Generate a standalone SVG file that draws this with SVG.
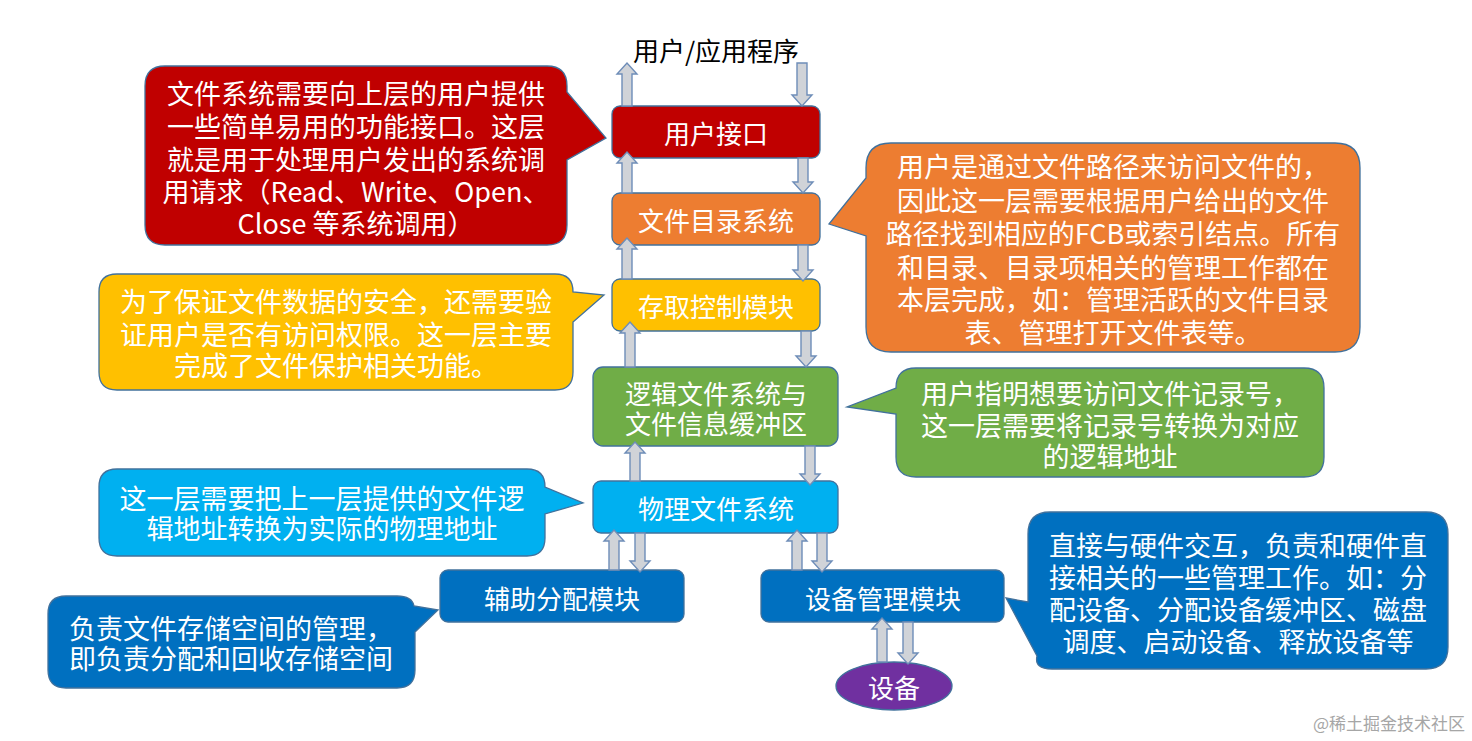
<svg xmlns="http://www.w3.org/2000/svg" width="1472" height="741" viewBox="0 0 1472 741">
<style>
  text { font-family: "Noto Sans CJK SC", "Noto Sans", sans-serif; dominant-baseline: central; text-anchor: middle; }
  .bt { fill: #FFFFFF; font-size: 26px; }
  .ct { fill: #FFFFFF; font-size: 27px; }
  .box { stroke: #41719C; stroke-width: 1.3; }
  .co { stroke: #41719C; stroke-width: 1.3; }
  .arr { fill: #D0D3D8; stroke: #6E8DB8; stroke-width: 1.4; stroke-linejoin: miter; }
</style>
<rect width="1472" height="741" fill="#FFFFFF"/>

<text id="title" x="716" y="49" style="font-size:26px;fill:#000">用户/应用程序</text>

<g id="callout-user-interface">
  <path class="co" fill="#C00000" d="M 165,66 H 547 Q 567,66 567,86 V 92 L 606,138 L 567,160 V 225 Q 567,245 547,245 H 165 Q 145,245 145,225 V 86 Q 145,66 165,66 Z"/>
  <text class="ct" x="356" y="92">文件系统需要向上层的用户提供</text>
  <text class="ct" x="356" y="125">一些简单易用的功能接口。这层</text>
  <text class="ct" x="356" y="158">就是用于处理用户发出的系统调</text>
  <text class="ct" x="356" y="190">用请求（Read、Write、Open、</text>
  <text class="ct" x="356" y="222">Close 等系统调用）</text>
</g>

<g id="callout-dir">
  <path class="co" fill="#ED7D31" d="M 891,143 H 1335 Q 1360,143 1360,168 V 327 Q 1360,352 1335,352 H 891 Q 866,352 866,327 V 236 L 829,224 L 866,178 V 168 Q 866,143 891,143 Z"/>
  <text class="ct" x="1113" y="165">用户是通过文件路径来访问文件的，</text>
  <text class="ct" x="1113" y="199">因此这一层需要根据用户给出的文件</text>
  <text class="ct" x="1113" y="232">路径找到相应的FCB或索引结点。所有</text>
  <text class="ct" x="1113" y="266">和目录、目录项相关的管理工作都在</text>
  <text class="ct" x="1113" y="298">本层完成，如：管理活跃的文件目录</text>
  <text class="ct" x="1113" y="331">表、管理打开文件表等。</text>
</g>

<g id="callout-access">
  <path class="co" fill="#FFC000" d="M 117,274 H 555 Q 573,274 573,292 L 604,295 L 573,322 V 372 Q 573,390 555,390 H 117 Q 99,390 99,372 V 292 Q 99,274 117,274 Z"/>
  <text class="ct" x="336" y="300">为了保证文件数据的安全，还需要验</text>
  <text class="ct" x="336" y="333">证用户是否有访问权限。这一层主要</text>
  <text class="ct" x="336" y="364">完成了文件保护相关功能。</text>
</g>

<g id="callout-physical">
  <path class="co" fill="#00B0F0" d="M 117,469 H 527 Q 545,469 545,487 L 583,503 L 545,514 V 538 Q 545,556 527,556 H 117 Q 99,556 99,538 V 487 Q 99,469 117,469 Z"/>
  <text class="ct" x="322" y="497">这一层需要把上一层提供的文件逻</text>
  <text class="ct" x="322" y="527">辑地址转换为实际的物理地址</text>
</g>

<g id="callout-logical">
  <path class="co" fill="#70AD47" d="M 916,368 H 1304 Q 1324,368 1324,388 V 457 Q 1324,477 1304,477 H 916 Q 896,477 896,457 V 414 L 847,407 L 896,388 Q 896,368 916,368 Z"/>
  <text class="ct" x="1110" y="392">用户指明想要访问文件记录号，</text>
  <text class="ct" x="1110" y="424">这一层需要将记录号转换为对应</text>
  <text class="ct" x="1110" y="455">的逻辑地址</text>
</g>

<g id="callout-device">
  <path class="co" fill="#0070C0" d="M 1050,512 H 1426 Q 1448,512 1448,534 V 647 Q 1448,669 1426,669 H 1052 Q 1034,669 1037,656 L 1006,598 L 1028,602 V 534 Q 1028,512 1050,512 Z"/>
  <text class="ct" x="1238" y="544">直接与硬件交互，负责和硬件直</text>
  <text class="ct" x="1238" y="576">接相关的一些管理工作。如：分</text>
  <text class="ct" x="1238" y="608">配设备、分配设备缓冲区、磁盘</text>
  <text class="ct" x="1238" y="640">调度、启动设备、释放设备等</text>
</g>

<g id="callout-alloc">
  <path class="co" fill="#0070C0" d="M 66,596 H 397 Q 412,596 414,606 L 438,610 L 415,632 V 670 Q 415,688 397,688 H 66 Q 48,688 48,670 V 614 Q 48,596 66,596 Z"/>
  <text class="ct" x="231" y="627">负责文件存储空间的管理，</text>
  <text class="ct" x="231" y="657">即负责分配和回收存储空间</text>
</g>

<g id="node-user-interface">
  <rect class="box" x="612" y="106" width="208" height="52" rx="8" fill="#C00000"/>
  <text class="bt" x="716" y="132">用户接口</text>
</g>
<g id="node-dir">
  <rect class="box" x="612" y="193" width="208" height="52" rx="8" fill="#ED7D31"/>
  <text class="bt" x="716" y="219">文件目录系统</text>
</g>
<g id="node-access">
  <rect class="box" x="612" y="279" width="208" height="52" rx="8" fill="#FFC000"/>
  <text class="bt" x="716" y="305">存取控制模块</text>
</g>
<g id="node-logical">
  <rect class="box" x="593" y="367" width="245" height="79" rx="10" fill="#70AD47"/>
  <text class="bt" x="716" y="392">逻辑文件系统与</text>
  <text class="bt" x="716" y="422">文件信息缓冲区</text>
</g>
<g id="node-physical">
  <rect class="box" x="593" y="481" width="245" height="52" rx="8" fill="#00B0F0"/>
  <text class="bt" x="716" y="507">物理文件系统</text>
</g>
<g id="node-alloc">
  <rect class="box" x="440" y="570" width="244" height="52" rx="8" fill="#0070C0"/>
  <text class="bt" x="562" y="597">辅助分配模块</text>
</g>
<g id="node-devmgr">
  <rect class="box" x="761" y="570" width="243" height="52" rx="8" fill="#0070C0"/>
  <text class="bt" x="883" y="597">设备管理模块</text>
</g>
<g id="node-device">
  <ellipse class="box" cx="894" cy="686" rx="58" ry="24" fill="#7030A0"/>
  <text class="bt" x="894" y="686">设备</text>
</g>

<g id="connectors">
  <path class="arr" d="M 622,106 V 74 H 617 L 627,63 L 637,74 H 632 V 106 Z"/>
  <path class="arr" d="M 797,63 V 95 H 792 L 802,106 L 812,95 H 807 V 63 Z"/>
  <path class="arr" d="M 622,193 V 163 H 617 L 627,152 L 637,163 H 632 V 193 Z"/>
  <path class="arr" d="M 798,158 V 182 H 793 L 803,193 L 813,182 H 808 V 158 Z"/>
  <path class="arr" d="M 622,279 V 249 H 617 L 627,238 L 637,249 H 632 V 279 Z"/>
  <path class="arr" d="M 798,245 V 270 H 793 L 803,281 L 813,270 H 808 V 245 Z"/>
  <path class="arr" d="M 625,367 V 333 H 620 L 630,322 L 640,333 H 635 V 367 Z"/>
  <path class="arr" d="M 801,331 V 356 H 796 L 806,367 L 816,356 H 811 V 331 Z"/>
  <path class="arr" d="M 630,481 V 453 H 625 L 635,442 L 645,453 H 640 V 481 Z"/>
  <path class="arr" d="M 805,446 V 474 H 800 L 810,485 L 820,474 H 815 V 446 Z"/>
  <path class="arr" d="M 609,570 V 541 H 604 L 614,530 L 624,541 H 619 V 570 Z"/>
  <path class="arr" d="M 635,533 V 561 H 630 L 640,572 L 650,561 H 645 V 533 Z"/>
  <path class="arr" d="M 792,570 V 541 H 787 L 797,530 L 807,541 H 802 V 570 Z"/>
  <path class="arr" d="M 817,533 V 561 H 812 L 822,572 L 832,561 H 827 V 533 Z"/>
  <path class="arr" d="M 877,662 V 629 H 872 L 882,618 L 892,629 H 887 V 662 Z"/>
  <path class="arr" d="M 903,622 V 653 H 898 L 908,664 L 918,653 H 913 V 622 Z"/>
</g>

<text id="watermark" x="1465" y="722" style="font-size:17px;fill:#A6A6A6;text-anchor:end">@稀土掘金技术社区</text>
</svg>
